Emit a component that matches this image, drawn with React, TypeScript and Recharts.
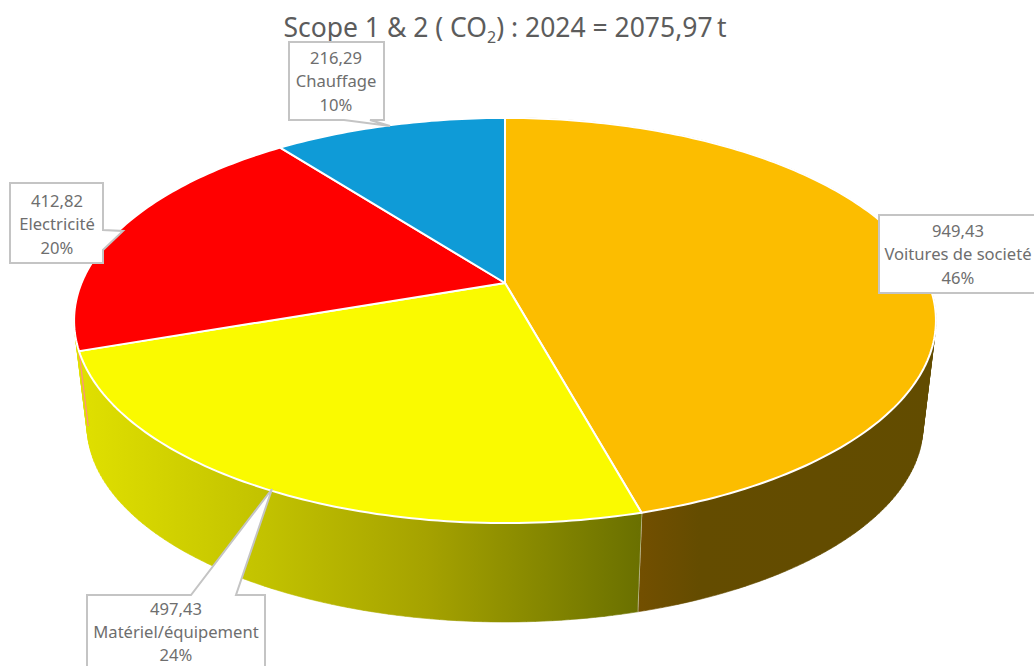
import React from "react";
import { PieChart, Pie } from "recharts";

const categories = ["Voitures de societé", "Matériel/équipement", "Electricité", "Chauffage"];
const values = [949.43, 497.43, 412.82, 216.29];
const topColors = ["#FCBD00", "#FAFA00", "#FF0000", "#0F9BD7"];
const total = 2075.97;

const rows = categories.map((name, i) => ({ name, value: values[i], fill: topColors[i], wallFill: `url(#wall${i})`, idx: i }));

// Perspective of the tilted disc
const TILT = 0.185;
const FLATTEN = 0.462;
const RING_SCALE = 0.97;
const RING_CX = 506;
const RIM_CY = 320;
const RING_CY = 425;
const WALL_OVERLAP = 20; // the lit wall runs on to the left edge of the disc
const SLIVER = 0.72;

const project = (p: any, deg: number) => {
  const r = (deg * Math.PI) / 180;
  const u = Math.sin(r);
  const v = -Math.cos(r);
  const w = 1 - TILT * v;
  return { x: p.cx + (p.outerRadius * u) / w, y: p.cy + (p.outerRadius * FLATTEN * v) / w };
};
const lower = (t: { x: number; y: number }) => ({
  x: RING_CX + (t.x - RING_CX) * RING_SCALE,
  y: RING_CY + (t.y - RIM_CY) * RING_SCALE,
});
const clockRange = (a0: number, a1: number) => {
  const n = Math.max(2, Math.ceil(Math.abs(a1 - a0)));
  return Array.from({ length: n + 1 }, (_, i) => a0 + ((a1 - a0) * i) / n);
};

const TopFace = (p: any) => {
  const pts = clockRange(90 - p.startAngle, 90 - p.endAngle).map((a) => project(p, a));
  const d = `M${p.cx},${p.cy} ` + pts.map((q) => `L${q.x.toFixed(2)},${q.y.toFixed(2)}`).join(" ") + " Z";
  return <path d={d} fill={p.fill} stroke="#FFFFFF" strokeWidth={2} strokeLinejoin="round" />;
};

const Wall = (p: any) => {
  const idx = p.idx ?? p.payload?.idx;
  const wallFill = p.wallFill ?? p.payload?.wallFill;
  const a0 = 90 - p.startAngle;
  const a1 = 90 - p.endAngle;
  if (idx === 2) {
    const t = project(p, a0);
    const b = lower(t);
    return <line x1={t.x} y1={t.y} x2={t.x + (b.x - t.x) * SLIVER} y2={t.y + (b.y - t.y) * SLIVER} stroke="#FF8A8A" strokeWidth={1.2} />;
  }
  if (idx === 3) return <g />;
  const angles = clockRange(a0, idx === 1 ? a1 + WALL_OVERLAP : a1);
  let d = "";
  for (let i = 0; i < angles.length - 1; i++) {
    const a = project(p, angles[i]);
    const b = project(p, angles[i + 1]);
    const s = [a, b, lower(b), lower(a)];
    if ((s[1].x - s[0].x) * (s[2].y - s[0].y) - (s[1].y - s[0].y) * (s[2].x - s[0].x) < 0) s.reverse();
    d += `M${s[0].x.toFixed(2)},${s[0].y.toFixed(2)} L${s[1].x.toFixed(2)},${s[1].y.toFixed(2)} L${s[2].x.toFixed(2)},${s[2].y.toFixed(2)} L${s[3].x.toFixed(2)},${s[3].y.toFixed(2)} Z `;
  }
  const endTop = project(p, a1);
  const endBottom = lower(endTop);
  return (
    <g>
      <path d={d} fill={wallFill} stroke={wallFill} strokeWidth={0.6} />
      {idx === 0 ? <line x1={endTop.x} y1={endTop.y} x2={endBottom.x} y2={endBottom.y} stroke="#E8E8E0" strokeWidth={1.6} /> : null}
    </g>
  );
};

// Callout layout, one per category
const callouts = [
  { cx: 958, y0: 231, gap: 23.5, box: "M879,215 L1040,215 L1040,293 L879,293 Z" },
  { cx: 176, y0: 609.5, gap: 22.8, box: "M87,595 L191,595 L272,489 L236,595 L265,595 L265,680 L87,680 Z" },
  { cx: 57, y0: 201, gap: 23.5, box: "M10,183 L103,183 L103,230 L123,231 L103,250 L103,263 L10,263 Z" },
  { cx: 336, y0: 58, gap: 23.5, box: "M289,42 L384,42 L384,120 L370,120 L390,126 L344,120 L289,120 Z" },
];

const Callout = (p: any) => {
  const i = p.idx ?? p.payload?.idx ?? p.index;
  const c = callouts[i];
  const val = values[i].toFixed(2).replace(".", ",");
  const pct = `${Math.round((values[i] / total) * 100)}%`;
  return (
    <g>
      <path d={c.box} fill="#FFFFFF" stroke="#C4C4C4" strokeWidth={2} strokeLinejoin="miter" />
      {[val, categories[i], pct].map((t, k) => (
        <text key={k} x={c.cx} y={c.y0 + k * c.gap} dy={5.5} textAnchor="middle" fontFamily="'Noto Sans'" fontSize={16.6} fill="#6E6E6E">
          {t}
        </text>
      ))}
    </g>
  );
};

export default function App() {
  return (
    <div style={{ position: "absolute", left: 0, top: 0, width: 1034, height: 666, overflow: "hidden", background: "#fff" }}>
      <div
        style={{
          position: "absolute",
          left: 0,
          top: 10,
          width: 1010,
          textAlign: "center",
          fontFamily: "'Noto Sans'",
          fontSize: 26.5,
          lineHeight: "34px",
          color: "#5C5C5C",
          whiteSpace: "nowrap",
        }}
      >
        Scope 1 &amp; 2 ( CO<sub style={{ fontSize: 16, lineHeight: 0 }}>2</sub>) : 2024 = 2075,97{"\u2009"}t
      </div>
      <PieChart width={1034} height={666} margin={{ top: 0, right: 0, bottom: 0, left: 0 }} style={{ position: "absolute", left: 0, top: 0 }}>
        <defs>
          <linearGradient id="wall0" gradientUnits="userSpaceOnUse" x1={640} y1={0} x2={940} y2={0}>
            <stop offset="0" stopColor="#724F00" />
            <stop offset="0.2" stopColor="#644C00" />
            <stop offset="1" stopColor="#624C00" />
          </linearGradient>
          <linearGradient id="wall1" gradientUnits="userSpaceOnUse" x1={80} y1={0} x2={640} y2={0}>
            <stop offset="0" stopColor="#E0E000" />
            <stop offset="0.33" stopColor="#C2C200" />
            <stop offset="0.62" stopColor="#A5A200" />
            <stop offset="1" stopColor="#6A7000" />
          </linearGradient>
        </defs>
        <Pie
          data={rows}
          dataKey="value"
          nameKey="name"
          cx={505}
          cy={283}
          outerRadius={423.5}
          startAngle={90}
          endAngle={-270}
          paddingAngle={0}
          isAnimationActive={false}
          shape={Wall as any}
          activeShape={Wall as any}
          inactiveShape={Wall as any}
          label={false}
          labelLine={false}
        />
        <Pie
          data={rows}
          dataKey="value"
          nameKey="name"
          cx={505}
          cy={283}
          outerRadius={423.5}
          startAngle={90}
          endAngle={-270}
          paddingAngle={0}
          isAnimationActive={false}
          shape={TopFace as any}
          activeShape={TopFace as any}
          inactiveShape={TopFace as any}
          label={Callout as any}
          labelLine={false}
        />
      </PieChart>
    </div>
  );
}
